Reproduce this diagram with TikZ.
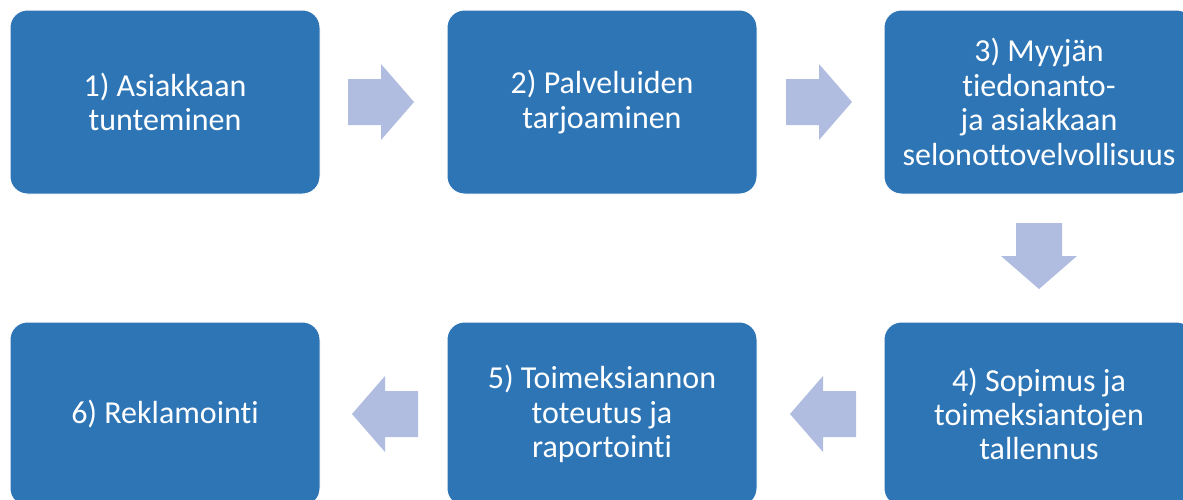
\documentclass[tikz,border=0pt]{standalone}
\usepackage{fontspec}
\setmainfont{Carlito}[Ligatures=NoCommon]
\definecolor{boxblue}{RGB}{46,117,182}
\definecolor{arrowblue}{RGB}{176,188,224}
\begin{document}
\begin{tikzpicture}[x=0.75pt,y=-0.75pt,
  stepbox/.style={rectangle, rounded corners=13pt, fill=boxblue, draw=white,
    line width=0.75pt, minimum width=232.5pt, minimum height=138pt,
    text=white, align=center, inner sep=0pt,
    font=\fontsize{24}{25.8}\selectfont},
  blockarrow/.pic={\fill[arrowblue] (0,-23) -- (33,-23) -- (33,-38) -- (66,0)
    -- (33,38) -- (33,23) -- (0,23) -- cycle;}]
\useasboundingbox (0,0) rectangle (1183,500);
\clip (0,0) rectangle (1183,500);
\node[stepbox] (b1) at (165,102) {1) Asiakkaan\\tunteminen};
\node[stepbox] (b2) at (602,102) {2) Palveluiden\\tarjoaminen};
\node[stepbox] (b3) at (1039,102) {3) Myyjän\\tiedonanto-\\ja asiakkaan\\selonottovelvollisuus};
\node[stepbox] (b4) at (1039,414) {4) Sopimus ja\\toimeksiantojen\\tallennus};
\node[stepbox] (b5) at (602,414) {5) Toimeksiannon\\toteutus ja\\raportointi};
\node[stepbox] (b6) at (165,414) {6) Reklamointi};
\pic at (348,102) {blockarrow};
\pic at (786,102) {blockarrow};
\pic[rotate=-90] at (1039,223) {blockarrow};
\pic[rotate=180] at (856,414) {blockarrow};
\pic[rotate=180] at (418,414) {blockarrow};
\end{tikzpicture}
\end{document}
